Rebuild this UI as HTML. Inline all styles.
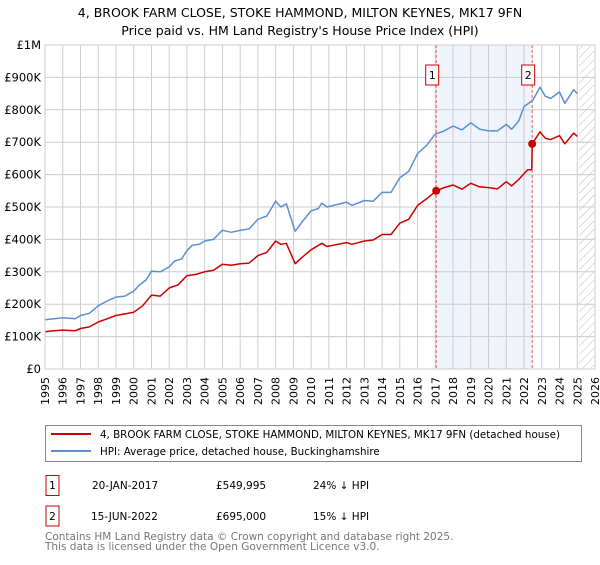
<!DOCTYPE html>
<html><head><meta charset="utf-8"><style>
body{margin:0;background:#fff;font-family:"Liberation Sans","DejaVu Sans",sans-serif;}
svg text{font-family:"DejaVu Sans","Liberation Sans",sans-serif;}
</style></head><body>
<svg id="c" width="600" height="560" viewBox="0 0 600 560" xmlns="http://www.w3.org/2000/svg">
<text x="300" y="17" text-anchor="middle" font-size="12.5">4, BROOK FARM CLOSE, STOKE HAMMOND, MILTON KEYNES, MK17 9FN</text>
<text x="300" y="35" text-anchor="middle" font-size="12.5">Price paid vs. HM Land Registry's House Price Index (HPI)</text>
<g id="plot"></g>
<g>
<rect x="45.5" y="425.5" width="536" height="36" fill="#fff" stroke="#888"/>
<line x1="51" y1="434" x2="91" y2="434" stroke="#cc0000" stroke-width="2"/>
<text x="100" y="438" font-size="10.3">4, BROOK FARM CLOSE, STOKE HAMMOND, MILTON KEYNES, MK17 9FN (detached house)</text>
<line x1="51" y1="451" x2="91" y2="451" stroke="#5b8fd4" stroke-width="2"/>
<text x="100" y="455" font-size="10.3">HPI: Average price, detached house, Buckinghamshire</text>
</g>
<g font-size="10.5">
<rect x="46" y="475.5" width="13" height="20" fill="#fff" stroke="#cc0000"/><text x="52.5" y="489" text-anchor="middle">1</text>
<text x="92" y="489">20-JAN-2017</text><text x="216" y="489">£549,995</text><text x="313" y="489">24% ↓ HPI</text>
<rect x="46" y="506" width="13" height="20" fill="#fff" stroke="#cc0000"/><text x="52.5" y="520" text-anchor="middle">2</text>
<text x="91" y="520">15-JUN-2022</text><text x="216" y="520">£695,000</text><text x="313" y="520">15% ↓ HPI</text>
</g>
<text x="45" y="540" font-size="10.5" fill="#777">Contains HM Land Registry data © Crown copyright and database right 2025.</text>
<text x="45" y="550" font-size="10.5" fill="#777">This data is licensed under the Open Government Licence v3.0.</text>
</svg>
<script>
const yTicks=[0,100,200,300,400,500,600,700,800,900,1000];
const yTickLabels=["£0","£100K","£200K","£300K","£400K","£500K","£600K","£700K","£800K","£900K","£1M"];
const years=[1995,1996,1997,1998,1999,2000,2001,2002,2003,2004,2005,2006,2007,2008,2009,2010,2011,2012,2013,2014,2015,2016,2017,2018,2019,2020,2021,2022,2023,2024,2025,2026];
const hpiT=[1995,1995.5,1996,1996.7,1997,1997.5,1998,1998.5,1999,1999.5,2000,2000.3,2000.7,2001,2001.5,2002,2002.3,2002.7,2003,2003.3,2003.7,2004,2004.5,2005,2005.5,2006,2006.5,2007,2007.5,2008,2008.3,2008.6,2009.1,2009.5,2010,2010.4,2010.6,2010.9,2011.5,2012,2012.3,2013,2013.5,2014,2014.5,2015,2015.5,2016,2016.5,2017,2017.5,2018,2018.5,2019,2019.5,2020,2020.5,2021,2021.3,2021.7,2022,2022.5,2022.9,2023.2,2023.5,2024,2024.3,2024.8,2025];
const hpiV=[152,155,158,155,165,172,195,210,222,225,240,258,275,302,300,315,333,340,365,382,385,395,400,428,422,428,432,462,472,518,500,510,425,455,488,495,512,500,508,515,505,520,518,545,545,590,610,665,690,725,735,750,738,760,740,735,735,755,740,765,810,830,870,842,835,855,820,862,850];
const ppT=[1995,1995.5,1996,1996.7,1997,1997.5,1998,1998.5,1999,1999.5,2000,2000.5,2001,2001.5,2002,2002.5,2003,2003.5,2004,2004.5,2005,2005.5,2006,2006.5,2007,2007.5,2008,2008.3,2008.6,2009.1,2009.5,2010,2010.6,2010.9,2011.5,2012,2012.3,2013,2013.5,2014,2014.5,2015,2015.5,2016,2016.5,2017.05,2017.5,2018,2018.5,2019,2019.5,2020,2020.5,2021,2021.3,2021.7,2022.2,2022.44,2022.46,2022.9,2023.2,2023.5,2024,2024.3,2024.8,2025];
const ppV=[115,118,120,118,125,130,145,155,165,170,175,195,228,225,250,260,288,292,300,305,323,320,325,327,350,360,395,385,388,325,345,368,388,378,385,390,385,395,398,415,415,450,462,505,525,550,560,568,555,573,562,560,556,578,565,585,615,615,695,732,712,708,720,695,728,718];
const saleT=[2017.05,2022.46];
const saleV=[549.995,695];
const saleLabels=["1","2"];
const X0=45,X1=595,Y0=369,Y1=45;
const xs=t=>X0+(t-1995)/(2026-1995)*(X1-X0);
const ys=v=>Y0-v/1000*(Y0-Y1);
const NS="http://www.w3.org/2000/svg";
const g=document.getElementById('plot');
function mk(tag,attrs,parent){const e=document.createElementNS(NS,tag);for(const k in attrs)e.setAttribute(k,attrs[k]);(parent||g).appendChild(e);return e;}
let sh=mk('rect',{x:xs(saleT[0]),y:Y1,width:xs(saleT[1])-xs(saleT[0]),height:Y0-Y1,fill:'#eef3fc'});


const defs=mk('defs',{});
const pat=mk('pattern',{id:'h',width:6,height:6,patternUnits:'userSpaceOnUse',patternTransform:'rotate(45)'},defs);
mk('line',{x1:0,y1:0,x2:0,y2:6,stroke:'#bbb','stroke-width':1},pat);
let ht=mk('rect',{x:xs(2025.1),y:Y1,width:X1-xs(2025.1),height:Y0-Y1,fill:'url(#h)'});


years.forEach((yr,i)=>{
 const x=xs(yr);
 const l=mk('line',{x1:x,y1:Y1,x2:x,y2:Y0,stroke:'#ccc','stroke-width':1});
 
 
 const t=mk('text',{x:0,y:0,'font-size':11,'text-anchor':'end',transform:`translate(${x+4},${Y0+8}) rotate(-90)`});
 
 
 t.textContent=yr;
});
yTicks.forEach((v,i)=>{
 const y=ys(v);
 const l=mk('line',{x1:X0,y1:y,x2:X1,y2:y,stroke:'#ccc','stroke-width':1});
 
 
 const t=mk('text',{x:X0-4,y:y+4,'font-size':11.5,'text-anchor':'end'});
 
 
 t.textContent=yTickLabels[i];
});
saleT.forEach((t,i)=>{
 const l=mk('line',{x1:xs(t),y1:Y1,x2:xs(t),y2:Y0,stroke:'#e06060','stroke-width':1,'stroke-dasharray':'3,2'});
 
 
});
function path(T,V){return T.map((t,i)=>(i?'L':'M')+xs(t).toFixed(1)+','+ys(V[i]).toFixed(1)).join('');}
const hp=mk('path',{d:path(hpiT,hpiV),fill:'none',stroke:'#5b8fd4','stroke-width':1.5,'stroke-linejoin':'round'});


const pp=mk('path',{d:path(ppT,ppV),fill:'none',stroke:'#cc0000','stroke-width':1.5,'stroke-linejoin':'round'});


saleT.forEach((t,i)=>{
 const c=mk('circle',{cx:xs(t),cy:ys(saleV[i]),r:4,fill:'#cc0000'});
 
 
 const bx=xs(t)-4;
 const r=mk('rect',{x:bx-6.5,y:65,width:13,height:20,fill:'#fff',stroke:'#cc0000'});
 
 
 const tx=mk('text',{x:bx,y:79,'font-size':11,'text-anchor':'middle'});
 
 
 tx.textContent=saleLabels[i];
});
mk('rect',{x:X0,y:Y1,width:X1-X0,height:Y0-Y1,fill:'none',stroke:'#ccc'});
</script>
</body></html>
